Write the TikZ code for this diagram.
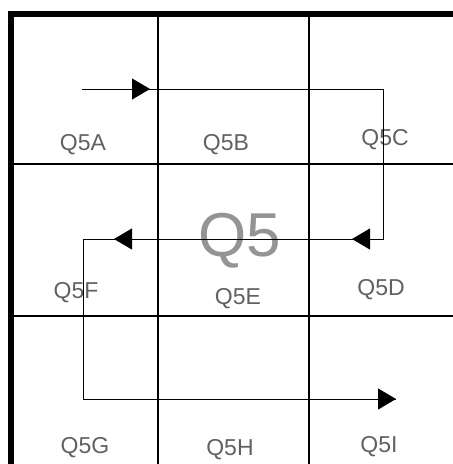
\documentclass[tikz,border=0pt]{standalone}
\usepackage{fontspec}
\setmainfont{Liberation Sans}
\usetikzlibrary{arrows.meta}
\begin{document}
\begin{tikzpicture}[x=1pt,y=-1pt,
  frame/.style={line width=6pt},
  gridline/.style={line width=1.4pt},
  route/.style={line width=1pt},
  tip/.style={line width=1pt,-{Triangle[length=18pt,width=21pt]}},
  cell/.style={font=\fontsize{23}{23}\selectfont,text=black!62,inner sep=0pt,anchor=center},
  big/.style={font=\fontsize{62}{62}\selectfont,text=black!42,inner sep=0pt,anchor=center}]
\useasboundingbox (0,0) rectangle (453,464);
% outer frame: top and left edges only
\draw[frame] (8,14) -- (453,14);
\draw[frame] (11,11) -- (11,464);
% 3x3 grid
\draw[gridline] (158,14) -- (158,464);
\draw[gridline] (309,14) -- (309,464);
\draw[gridline] (11,164) -- (453,164);
\draw[gridline] (11,316) -- (453,316);
% cell labels
\node[cell] (qa) at (83,145) {Q5A};
\node[cell] (qb) at (226,145) {Q5B};
\node[cell] (qc) at (385,140) {Q5C};
\node[cell] (qf) at (76,293) {Q5F};
\node[cell] (qe) at (238,299) {Q5E};
\node[cell] (qd) at (381,290) {Q5D};
\node[cell] (qg) at (85,448) {Q5G};
\node[cell] (qh) at (230,450) {Q5H};
\node[cell] (qi) at (379,447) {Q5I};
\node[big] (q5) at (240,241) {Q5};
% serpentine route
\coordinate (p0) at (82,89);
\coordinate (p1) at (383,89);
\coordinate (p2) at (383,239);
\coordinate (p3) at (83,239);
\coordinate (p4) at (83,399);
\coordinate (p5) at (396,399);
\draw[route] (p0) -- (p1) -- (p2) -- (p3) -- (p4) -- (p5);
% direction arrows
\coordinate (a1s) at (130,89);  \coordinate (a1e) at (150,89);
\coordinate (a2s) at (372,239); \coordinate (a2e) at (352,239);
\coordinate (a3s) at (134,239); \coordinate (a3e) at (114,239);
\coordinate (a4s) at (376,399);
\draw[tip] (a1s) -- (a1e);
\draw[tip] (a2s) -- (a2e);
\draw[tip] (a3s) -- (a3e);
\draw[tip] (a4s) -- (p5);
\end{tikzpicture}
\end{document}
